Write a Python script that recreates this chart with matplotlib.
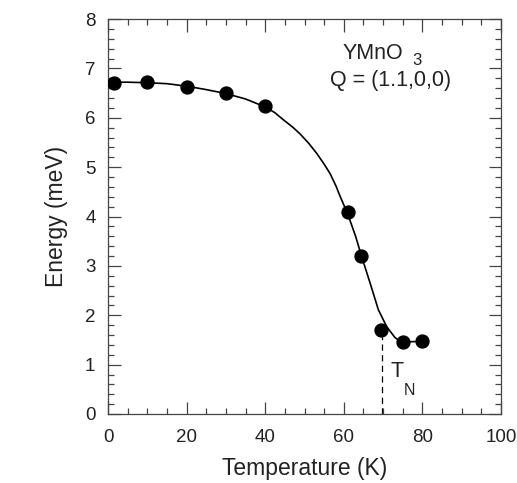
import matplotlib
matplotlib.use("Agg")
import matplotlib.pyplot as plt
from matplotlib.ticker import MultipleLocator

plt.rcParams['font.family'] = ['Liberation Sans', 'DejaVu Sans']

# measured data points
temp_K = [1.5, 10, 20, 30, 40, 61, 64.5, 69.5, 75, 80]
energy_meV = [6.70, 6.72, 6.63, 6.50, 6.23, 4.10, 3.20, 1.70, 1.45, 1.48]

# guide-to-the-eye curve
curve_T = [0, 5, 10, 15, 20, 25, 30, 35, 40, 42.5, 44.6, 47, 48.9, 51, 53.1,
           55, 56.5, 58, 59.0, 61, 63, 64.5, 66.7, 68.8, 70.9, 73, 74.5, 80]
curve_E = [6.72, 6.72, 6.71, 6.69, 6.64, 6.57, 6.49, 6.38, 6.22, 6.10, 5.96,
           5.81, 5.67, 5.49, 5.28, 5.06, 4.87, 4.62, 4.42, 4.05, 3.60, 3.20,
           2.65, 2.11, 1.77, 1.55, 1.46, 1.47]

T_N = 69.6
T_N_energy = 1.55

x_ticks = [0, 20, 40, 60, 80, 100]
y_ticks = [0, 1, 2, 3, 4, 5, 6, 7, 8]

fig = plt.figure(figsize=(5.17, 4.83), dpi=100)
ax = fig.add_axes([108/517, 1-414/483, 393/517, 395/483])

ax.plot(curve_T, curve_E, color='black', lw=1.2, zorder=2,
        solid_joinstyle='round')
ax.plot(temp_K, energy_meV, 'o', color='black', ms=9.3, zorder=3)
ax.plot([T_N, T_N], [0, T_N_energy], color='black', lw=0.9,
        ls=(0, (5, 3.5)), zorder=1)

ax.set_xlim(0, 100)
ax.set_ylim(0, 8)
ax.set_xticks(x_ticks)
ax.set_yticks(y_ticks)
ax.xaxis.set_minor_locator(MultipleLocator(5))
ax.yaxis.set_minor_locator(MultipleLocator(0.2))
ax.tick_params(which='both', direction='in', top=True, right=True,
               color='#444444', width=0.9)
ax.tick_params(which='major', length=9, labelsize=13.5,
               labelcolor='#222222')
ax.tick_params(axis='x', which='major', pad=11)
ax.tick_params(axis='y', which='major', pad=9)
ax.tick_params(which='minor', length=4.5)
for s in ax.spines.values():
    s.set_color('#444444')
    s.set_linewidth(0.9)

ax.set_xlabel('Temperature (K)', fontsize=16.5, color='#222222', labelpad=8)
ax.set_ylabel('Energy (meV)', fontsize=16.5, color='#222222', labelpad=12)

ax.text(59.8, 7.19, 'YMnO', fontsize=15.5, color='#222222', ha='left',
        va='baseline')
ax.text(77.4, 7.06, '3', fontsize=12, color='#222222', ha='left',
        va='baseline')
ax.text(71.8, 6.64, 'Q = (1.1,0,0)', fontsize=15.5, color='#222222',
        ha='center', va='baseline')

ax.text(71.9, 0.75, 'T', fontsize=15.5, color='#222222', va='baseline')
ax.text(75.2, 0.38, 'N', fontsize=11.5, color='#222222', va='baseline')

fig.savefig('out.png', dpi=100)
